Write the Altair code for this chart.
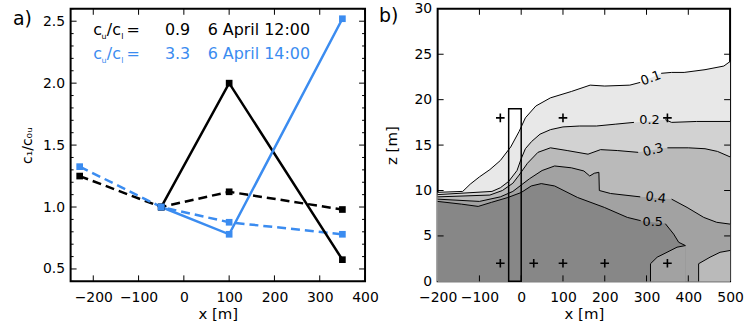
import altair as alt
import pandas as pd

FONT = "DejaVu Sans"
BLUE = "#3b8cf0"

# ---------------- panel a data ----------------
black_solid_x = [-50, 100, 350]
black_solid_y = [1.0, 2.0, 0.575]
black_dash_x = [-230, -50, 100, 350]
black_dash_y = [1.25, 1.0, 1.123, 0.98]
blue_solid_x = [-50, 100, 350]
blue_solid_y = [1.0, 0.78, 2.52]
blue_dash_x = [-230, -50, 100, 350]
blue_dash_y = [1.326, 1.0, 0.877, 0.78]

legend_ratio = ["0.9", "3.3"]
legend_time = ["6 April 12:00", "6 April 14:00"]
legend_color = ["black", BLUE]
legend_y = [2.391, 2.197]

a_xticks = [-200, -100, 0, 100, 200, 300, 400]
a_yticks = [0.5, 1.0, 1.5, 2.0, 2.5]
a_yminor = [0.4, 0.6, 0.7, 0.8, 0.9, 1.1, 1.2, 1.3, 1.4, 1.6, 1.7, 1.8, 1.9,
            2.1, 2.2, 2.3, 2.4, 2.6]

# ---------------- panel b data ----------------
c01_x = [-200, -140, -122, -100, -75, -50, -25, -5, 10, 35, 70, 120, 165, 200, 260, 285,
         335, 360, 390, 440, 485, 500]
c01_z = [9.8, 9.9, 10.7, 11.5, 12.3, 13.3, 14.8, 16.5, 18.0, 19.3, 20.2, 20.9, 21.6, 21.5,
         21.6, 21.9, 22.9, 23.0, 23.0, 23.3, 23.7, 24.2]
c02_x = [-200, -70, -50, -30, -10, 0, 10, 25, 45, 70, 100, 140, 180, 225, 270, 345, 360,
         420, 500]
c02_z = [9.55, 9.9, 10.3, 11.0, 12.2, 13.5, 14.6, 15.4, 16.2, 16.7, 17.0, 17.1, 17.1, 17.3,
         17.5, 17.8, 17.5, 17.6, 17.6]
c03_x = [-200, -75, -45, -20, -5, 15, 40, 70, 110, 160, 190, 230, 280, 350, 400, 440, 470, 500]
c03_z = [9.3, 9.5, 10.0, 10.8, 11.7, 13.0, 14.2, 14.7, 14.4, 14.0, 14.5, 14.4, 14.2, 14.7,
         14.7, 14.6, 14.3, 13.7]
c04_x = [-200, -100, -50, -20, 0, 20, 50, 80, 120, 150, 164, 175, 186, 187, 214, 285, 360,
         397, 437, 468, 500]
c04_z = [9.05, 8.8, 9.3, 9.9, 10.6, 11.3, 12.2, 12.7, 12.5, 12.15, 11.6, 11.9, 12.0, 10.0,
         9.67, 9.3, 9.05, 8.14, 7.04, 6.5, 6.3]
c05_x = [-200, -143, -103, -71, -32, 0, 24, 48, 80, 135, 199, 254, 286, 345, 365, 377, 393]
c05_z = [8.8, 8.5, 8.25, 8.7, 9.23, 9.78, 10.5, 10.76, 10.5, 9.23, 8.14, 7.04, 6.68, 6.35,
         5.2, 4.3, 3.94]
tongue_x = [393, 373, 349, 325.5, 309.5, 309.5]
tongue_z = [3.94, 3.76, 3.2, 2.66, 1.94, 0.0]
patch_x = [424.7, 424.7, 452, 476, 500]
patch_z = [0.0, 1.94, 2.66, 3.2, 3.4]

levels = ["0.1", "0.2", "0.3", "0.4", "0.5"]
level_fill = ["#e8e8e8", "#d2d2d2", "#bababa", "#a2a2a2", "#878787"]
label_x = [310, 307, 316, 322, 315]
label_z = [22.35, 17.75, 14.45, 9.2, 6.5]
label_angle = [340, 0, 345, 8, 0]
gap_lo = [285, 270, 280, 285, 286]
gap_hi = [335, 345, 350, 360, 345]

building_x = [-30, 0]
building_top = 19

cross_x = [-50, 100, 350, -50, 30, 100, 200, 350]
cross_z = [18, 18, 18, 2, 2, 2, 2, 2]

b_xticks = [-100, 0, 100, 200, 300, 400]
b_yticks = [5, 10, 15, 20, 25]

WA, HA = 296, 274
WB, HB = 294, 274
TICK = 6
MINOR = 3

# ---------------- panel a ----------------
xa_scale = alt.Scale(domain=[-250, 400], nice=False, zero=False)
ya_scale = alt.Scale(domain=[0.4, 2.6], nice=False, zero=False)
xa_axis = alt.Axis(values=a_xticks, ticks=False, domain=False, grid=False, labelPadding=9,
                   labelFlush=False, labelOverlap=False, title="x [m]", titlePadding=2)
ya_axis = alt.Axis(values=a_yticks, ticks=False, domain=False, grid=False, labelPadding=6,
                   format=".1f", labelFlush=False, labelOverlap=False,
                   title="c\u2081/c\u2080\u1d64", titlePadding=8, titleFontSize=14)


def XA(f="x"):
    return alt.X(f"{f}:Q", scale=xa_scale, axis=xa_axis)


def YA(f="y"):
    return alt.Y(f"{f}:Q", scale=ya_scale, axis=ya_axis)


def series(xs, ys, color, dashed):
    df = pd.DataFrame({"x": xs, "y": ys})
    kw = dict(color=color, strokeWidth=2.5)
    if dashed:
        kw["strokeDash"] = [9, 5]
    line = alt.Chart(df).mark_line(**kw).encode(x=XA(), y=YA())
    pts = alt.Chart(df).mark_point(shape="square", filled=True, color=color, size=45,
                                   opacity=1).encode(x=XA(), y=YA())
    return line, pts


layers_a = []
pts_a = []
for xs, ys, col, d in [(black_dash_x, black_dash_y, "black", True),
                       (blue_dash_x, blue_dash_y, BLUE, True),
                       (black_solid_x, black_solid_y, "black", False),
                       (blue_solid_x, blue_solid_y, BLUE, False)]:
    l, p = series(xs, ys, col, d)
    layers_a.append(l)
    pts_a.append(p)

df_axt = pd.DataFrame({"x": a_xticks})
df_ayt = pd.DataFrame({"y": a_yticks})
df_aym = pd.DataFrame({"y": a_yminor})
ticks_a = [
    alt.Chart(df_axt).mark_rule(color="black", strokeWidth=1).encode(
        x=XA(), y=alt.value(HA), y2=alt.value(HA - TICK)),
    alt.Chart(df_axt).mark_rule(color="black", strokeWidth=1).encode(
        x=XA(), y=alt.value(0), y2=alt.value(TICK)),
    alt.Chart(df_ayt).mark_rule(color="black", strokeWidth=1).encode(
        y=YA(), x=alt.value(0), x2=alt.value(TICK)),
    alt.Chart(df_ayt).mark_rule(color="black", strokeWidth=1).encode(
        y=YA(), x=alt.value(WA), x2=alt.value(WA - TICK)),
    alt.Chart(df_aym).mark_rule(color="black", strokeWidth=1).encode(
        y=YA(), x=alt.value(0), x2=alt.value(MINOR)),
    alt.Chart(df_aym).mark_rule(color="black", strokeWidth=1).encode(
        y=YA(), x=alt.value(WA), x2=alt.value(WA - MINOR)),
]

# legend text pieces: (text, dx, dy, size)
texts_a = []
for r in range(2):
    pieces = [("c", 0, 0, 16), ("u", 8.3, 4, 8), ("/c", 13.6, 0, 16), ("l", 28.2, 4, 8),
              ("=", 33.5, 0, 16), (legend_ratio[r], 72, 0, 16), (legend_time[r], 115, 0, 16)]
    row = pd.DataFrame({"x": [-200], "y": [legend_y[r]]})
    for t, dx, dy, fs in pieces:
        texts_a.append(alt.Chart(row.assign(t=t)).mark_text(
            align="left", baseline="alphabetic", fontSize=fs, color=legend_color[r], dx=dx,
            dy=dy, font=FONT).encode(x=XA(), y=YA(), text="t:N"))

lab_a = alt.Chart(pd.DataFrame({"x": [-250], "y": [2.6], "t": ["a)"]})).mark_text(
    align="left", baseline="middle", fontSize=19, dx=-58, dy=10, font=FONT,
    color="black").encode(x=XA(), y=YA(), text="t:N")

chart_a = alt.layer(*layers_a, *pts_a, *ticks_a, *texts_a, lab_a).properties(
    width=WA, height=HA)

# ---------------- panel b ----------------
xb_scale = alt.Scale(domain=[-200, 500], nice=False, zero=False)
yb_scale = alt.Scale(domain=[0, 30], nice=False, zero=False)
xb_axis = alt.Axis(values=[-200, -100, 0, 100, 200, 300, 400, 500], ticks=False, domain=False,
                   grid=False, labelPadding=9, labelFlush=False, labelOverlap=False,
                   title="x [m]", titlePadding=2)
yb_axis = alt.Axis(values=[0, 5, 10, 15, 20, 25, 30], ticks=False, domain=False, grid=False,
                   labelPadding=6, labelFlush=False, labelOverlap=False, title="z [m]",
                   titlePadding=15)


def XB(f="x"):
    return alt.X(f"{f}:Q", scale=xb_scale, axis=xb_axis)


def YB(f="z"):
    return alt.Y(f"{f}:Q", scale=yb_scale, axis=yb_axis)


contours = [(c01_x, c01_z), (c02_x, c02_z), (c03_x, c03_z), (c04_x, c04_z), (c05_x, c05_z)]


def area(xs, zs, color):
    df = pd.DataFrame({"x": xs, "z": zs})
    return alt.Chart(df).mark_area(color=color, opacity=1, strokeWidth=0).encode(
        x=XB(), y=YB(), y2=alt.datum(0))


areas = [area(*contours[k], level_fill[k]) for k in range(4)]
areas.append(area(patch_x[1:], patch_z[1:], level_fill[2]))
areas.append(area(*contours[4], level_fill[4]))
areas.append(area(list(reversed(tongue_x[:-1])), list(reversed(tongue_z[:-1])), level_fill[3]))

# contour lines split at label gaps
rows = []
for k, (xs, zs) in enumerate(contours):
    for i, (x, z) in enumerate(zip(xs, zs)):
        seg = f"{k}a" if x <= gap_lo[k] else f"{k}b"
        rows.append({"x": x, "z": z, "seg": seg, "i": i})
    if k == 4:
        n = len(xs)
        for j, (x, z) in enumerate(zip(tongue_x[1:], tongue_z[1:])):
            rows.append({"x": x, "z": z, "seg": "4b", "i": n + j})
for j, (x, z) in enumerate(zip(patch_x, patch_z)):
    rows.append({"x": x, "z": z, "seg": "p", "i": j})
df_lines = pd.DataFrame(rows)
lines_b = alt.Chart(df_lines).mark_line(color="black", strokeWidth=1).encode(
    x=XB(), y=YB(), detail="seg:N", order="i:Q")

labels_b = []
for k in range(5):
    d = pd.DataFrame({"x": [label_x[k]], "z": [label_z[k]], "t": [levels[k]]})
    labels_b.append(alt.Chart(d).mark_text(fontSize=13, font=FONT, color="black",
                                           angle=label_angle[k], baseline="middle",
                                           align="center").encode(
        x=XB(), y=YB(), text="t:N"))

df_bld = pd.DataFrame({"x": [building_x[0]], "x2": [building_x[1]], "z": [0],
                       "z2": [building_top]})
building = alt.Chart(df_bld).mark_rect(filled=False, color="black", strokeWidth=1.5).encode(
    x=XB(), x2="x2:Q", y=YB(), y2="z2:Q")

crosses = alt.Chart(pd.DataFrame({"x": cross_x, "z": cross_z})).mark_point(
    shape="M-1,0L1,0M0,-1L0,1", filled=False, color="black", strokeWidth=1.6, size=75,
    opacity=1).encode(x=XB(), y=YB())

df_bxt = pd.DataFrame({"x": b_xticks})
df_byt = pd.DataFrame({"z": b_yticks})
ticks_b = [
    alt.Chart(df_bxt).mark_rule(color="black", strokeWidth=1).encode(
        x=XB(), y=alt.value(HB), y2=alt.value(HB - TICK)),
    alt.Chart(df_bxt).mark_rule(color="black", strokeWidth=1).encode(
        x=XB(), y=alt.value(0), y2=alt.value(TICK)),
    alt.Chart(df_byt).mark_rule(color="black", strokeWidth=1).encode(
        y=YB(), x=alt.value(0), x2=alt.value(TICK)),
    alt.Chart(df_byt).mark_rule(color="black", strokeWidth=1).encode(
        y=YB(), x=alt.value(WB), x2=alt.value(WB - TICK)),
]

lab_b = alt.Chart(pd.DataFrame({"x": [-200], "z": [30], "t": ["b)"]})).mark_text(
    align="left", baseline="middle", fontSize=19, dx=-59, dy=7, font=FONT,
    color="black").encode(x=XB(), y=YB(), text="t:N")

chart_b = alt.layer(*areas, lines_b, *labels_b, building, crosses, *ticks_b, lab_b).properties(
    width=WB, height=HB)

chart = alt.hconcat(chart_a, chart_b, spacing=73, bounds="flush").properties(
    padding={"left": 12, "top": 0, "right": 0, "bottom": 0}
).configure(font=FONT).configure_view(stroke="black", strokeWidth=2).configure_axis(
    labelFont=FONT, labelFontSize=14, labelColor="black", titleFont=FONT, titleFontSize=15,
    titleFontWeight="normal", titleColor="black")

chart.save("out.html", embed_options={"renderer": "svg", "actions": False})
